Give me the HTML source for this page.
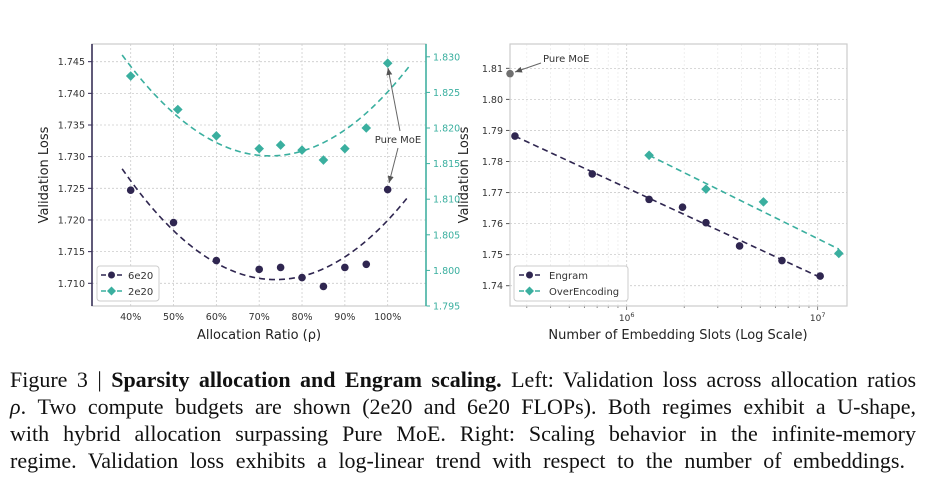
<!DOCTYPE html>
<html><head><meta charset="utf-8"><style>
body{margin:0;background:#fff;width:949px;height:493px;overflow:hidden;position:relative}
svg{position:absolute;left:0;top:0}
svg text{font-family:"DejaVu Sans","Liberation Sans",sans-serif}
.cap{position:absolute;left:10px;width:906px;font-family:"Liberation Serif",serif;font-size:22px;color:#111;white-space:nowrap;text-align:justify;text-align-last:justify;line-height:27px}
</style></head><body>
<svg id="chart" width="949" height="360"></svg>
<div class="cap" style="top:366px">Figure 3 | <b>Sparsity allocation and Engram scaling.</b> Left: Validation loss across allocation ratios</div>
<div class="cap" style="top:393px"><i>ρ</i>. Two compute budgets are shown (2e20 and 6e20 FLOPs). Both regimes exhibit a U-shape,</div>
<div class="cap" style="top:420px">with hybrid allocation surpassing Pure MoE. Right: Scaling behavior in the infinite-memory</div>
<div class="cap" style="top:447px;width:895px">regime. Validation loss exhibits a log-linear trend with respect to the number of embeddings.</div>
<script>
// Left chart data
const ratios6=[40,50,60,70,75,80,85,90,95,100];
const loss6=[1.7247,1.7196,1.7136,1.7122,1.7125,1.7109,1.7095,1.7125,1.7130,1.7248];
const ratios2=[40,51,60,70,75,80,85,90,95,100];
const loss2=[1.8273,1.8226,1.8189,1.8171,1.8176,1.8169,1.8155,1.8171,1.8200,1.8291];
const xTicksL=[40,50,60,70,80,90,100];
const yTicksL=[1.710,1.715,1.720,1.725,1.730,1.735,1.740,1.745];
const yTicksR=[1.795,1.800,1.805,1.810,1.815,1.820,1.825,1.830];
// Right chart data
const slotsEngram=[2.6e5,6.6e5,1.31e6,1.96e6,2.6e6,3.9e6,6.5e6,1.03e7];
const lossEngram=[1.7882,1.7760,1.7678,1.7653,1.7603,1.7528,1.7481,1.7431];
const slotsOver=[1.31e6,2.6e6,5.2e6,1.29e7];
const lossOver=[1.7820,1.7711,1.7670,1.7504];
const pureMoE=[2.45e5,1.8083];
const yTicksRight=[1.74,1.75,1.76,1.77,1.78,1.79,1.80,1.81];

const PUR='#2f2650',TEA='#3aaf9f';
const svg=document.getElementById('chart');
const NS='http://www.w3.org/2000/svg';
function el(t,a,p){const e=document.createElementNS(NS,t);for(const k in a)e.setAttribute(k,a[k]);(p||svg).appendChild(e);return e;}
function txt(s,a,p){const e=el('text',a,p);e.textContent=s;return e;}

const xL=v=>130.7+(v-40)*4.283;
const yL=v=>283.3-(v-1.710)/0.005*31.66;
const yR=v=>306-(v-1.795)/0.005*35.6;
for(const t of xTicksL){const g=el('line',{x1:xL(t),x2:xL(t),y1:44,y2:306,stroke:'#ccc','stroke-dasharray':'2,2','stroke-width':0.8});

const l=txt(t+'%',{x:xL(t),y:320,'font-size':9.5,'text-anchor':'middle',fill:'#333'});
}
for(const t of yTicksL){const g=el('line',{x1:92,x2:426,y1:yL(t),y2:yL(t),stroke:'#ccc','stroke-dasharray':'2,2','stroke-width':0.8});

el('line',{x1:88,x2:92,y1:yL(t),y2:yL(t),stroke:PUR});
const l=txt(t.toFixed(3),{x:85,y:yL(t)+3.5,'font-size':9.5,'text-anchor':'end',fill:'#333'});
}
for(const t of yTicksR){el('line',{x1:426,x2:430,y1:yR(t),y2:yR(t),stroke:TEA});
const l=txt(t.toFixed(3),{x:433,y:yR(t)+3.5,'font-size':9.5,fill:TEA});
}
el('rect',{x:92,y:44,width:334,height:262,fill:'none',stroke:'#ccc','stroke-width':1.2});
el('line',{x1:92,x2:92,y1:44,y2:306,stroke:PUR,'stroke-width':1.5});
el('line',{x1:426,x2:426,y1:44,y2:306,stroke:TEA,'stroke-width':1.5});
function qfit(xs,ys){let S=[0,0,0,0,0],T=[0,0,0];for(let i=0;i<xs.length;i++){const x=xs[i]/100;let p=1;for(let k=0;k<5;k++){S[k]+=p;if(k<3)T[k]+=p*ys[i];p*=x;}}
const A=[[S[0],S[1],S[2],T[0]],[S[1],S[2],S[3],T[1]],[S[2],S[3],S[4],T[2]]];
for(let i=0;i<3;i++){for(let j=i+1;j<3;j++){const f=A[j][i]/A[i][i];for(let k=i;k<4;k++)A[j][k]-=f*A[i][k];}}
const c=[0,0,0];for(let i=2;i>=0;i--){let s=A[i][3];for(let k=i+1;k<3;k++)s-=A[i][k]*c[k];c[i]=s/A[i][i];}
return x=>c[0]+c[1]*x/100+c[2]*(x/100)**2;}
function curve(f,ys,col,name){let d='';for(let x=38;x<=105;x+=0.5)d+=(d?'L':'M')+xL(x)+','+ys(f(x));
const p=el('path',{d,fill:'none',stroke:col,'stroke-width':1.6,'stroke-dasharray':'6,4'});
}
curve(qfit(ratios6,loss6),yL,PUR,'fit-curve-6e20');
curve(qfit(ratios2,loss2),yR,TEA,'fit-curve-2e20');
function dot(x,y,c,name){const e=el('circle',{cx:x,cy:y,r:3.8,fill:c});}
function dia(x,y,c,name){const e=el('path',{d:`M${x},${y-4.8}L${x+4.8},${y}L${x},${y+4.8}L${x-4.8},${y}Z`,fill:c});}
ratios6.forEach((r,i)=>dot(xL(r),yL(loss6[i]),PUR,'point-6e20'));
ratios2.forEach((r,i)=>dia(xL(r),yR(loss2[i]),TEA,'point-2e20'));
el('defs',{}).innerHTML='<marker id="ah" markerWidth="8" markerHeight="8" refX="7" refY="4" orient="auto"><path d="M0,1L7,4L0,7Z" fill="#555"/></marker>';
txt('Pure MoE',{x:398,y:143,'font-size':10,'text-anchor':'middle',fill:'#333'});
el('line',{x1:400,y1:131,x2:388,y2:68,stroke:'#666','marker-end':'url(#ah)'});
el('line',{x1:398,y1:148,x2:389,y2:183,stroke:'#666','marker-end':'url(#ah)'});
const lg=el('g',{});
el('rect',{x:97,y:266,width:62,height:35,rx:3,fill:'#fff',stroke:'#ccc'},lg);
el('line',{x1:101,x2:122,y1:275,y2:275,stroke:PUR,'stroke-width':1.6,'stroke-dasharray':'5,3'},lg);
el('circle',{cx:111.5,cy:275,r:3.5,fill:PUR},lg);
txt('6e20',{x:128,y:279,'font-size':10,fill:'#333'},lg);
el('line',{x1:101,x2:122,y1:291,y2:291,stroke:TEA,'stroke-width':1.6,'stroke-dasharray':'5,3'},lg);
el('path',{d:'M111.5,286.5L116,291L111.5,295.5L107,291Z',fill:TEA},lg);
txt('2e20',{x:128,y:295,'font-size':10,fill:'#333'},lg);
txt('Allocation Ratio (ρ)',{x:259,y:339,'font-size':13,'text-anchor':'middle',fill:'#222'});
txt('Validation Loss',{x:0,y:0,'font-size':13,'text-anchor':'middle',fill:'#222',transform:'translate(48,175) rotate(-90)'});

const lx=v=>626.7+(Math.log10(v)-6)*191;
const yRR=v=>285.7-(v-1.74)/0.01*31.05;
for(let e=5;e<=7;e++)for(let m=1;m<=9;m++){const v=m*10**e;const x=lx(v);if(x<511||x>846)continue;
el('line',{x1:x,x2:x,y1:44,y2:306,stroke:m==1?'#ccc':'#e6e6e6','stroke-dasharray':'2,2','stroke-width':m==1?0.8:0.6});
el('line',{x1:x,x2:x,y1:306,y2:m==1?310:308,stroke:'#555','stroke-width':0.7});
if(m==1){const t=el('text',{x:x,y:321,'font-size':9,'text-anchor':'middle',fill:'#333'});t.innerHTML='10<tspan dy="-4" font-size="6.5">'+e+'</tspan>';
}}
for(const t of yTicksRight){el('line',{x1:510,x2:847,y1:yRR(t),y2:yRR(t),stroke:'#ccc','stroke-dasharray':'2,2','stroke-width':0.8});
el('line',{x1:506,x2:510,y1:yRR(t),y2:yRR(t),stroke:'#555'});
const l=txt(t.toFixed(2),{x:503,y:yRR(t)+3.5,'font-size':9.5,'text-anchor':'end',fill:'#333'});
}
el('rect',{x:510,y:44,width:337,height:262,fill:'none',stroke:'#ccc','stroke-width':1.2});
function lfit(xs,ys){const n=xs.length;const L=xs.map(Math.log10);const mx=L.reduce((a,b)=>a+b)/n,my=ys.reduce((a,b)=>a+b)/n;
let sxy=0,sxx=0;for(let i=0;i<n;i++){sxy+=(L[i]-mx)*(ys[i]-my);sxx+=(L[i]-mx)**2;}const b=sxy/sxx;return v=>my+b*(Math.log10(v)-mx);}
function fline(xs,ys,col,name){const f=lfit(xs,ys);const a=xs[0],b=xs[xs.length-1];
const p=el('line',{x1:lx(a),y1:yRR(f(a)),x2:lx(b),y2:yRR(f(b)),stroke:col,'stroke-width':1.6,'stroke-dasharray':'6,4'});
}
fline(slotsEngram,lossEngram,PUR,'fit-line-engram');
fline(slotsOver,lossOver,TEA,'fit-line-overencoding');
slotsEngram.forEach((s,i)=>dot(lx(s),yRR(lossEngram[i]),PUR,'point-engram'));
slotsOver.forEach((s,i)=>dia(lx(s),yRR(lossOver[i]),TEA,'point-overencoding'));
dot(lx(pureMoE[0]),yRR(pureMoE[1]),'#707070','point-pure-moe');
txt('Pure MoE',{x:543,y:62,'font-size':10,fill:'#333'});
el('line',{x1:541,y1:63,x2:515,y2:72,stroke:'#666','marker-end':'url(#ah)'});
const lg2=el('g',{});
el('rect',{x:514,y:266,width:114,height:35,rx:3,fill:'#fff',stroke:'#ccc'},lg2);
el('line',{x1:519,x2:540,y1:275,y2:275,stroke:PUR,'stroke-width':1.6,'stroke-dasharray':'5,3'},lg2);
el('circle',{cx:529.5,cy:275,r:3.5,fill:PUR},lg2);
txt('Engram',{x:549,y:279,'font-size':10,fill:'#333'},lg2);
el('line',{x1:519,x2:540,y1:291,y2:291,stroke:TEA,'stroke-width':1.6,'stroke-dasharray':'5,3'},lg2);
el('path',{d:'M529.5,286.5L534,291L529.5,295.5L525,291Z',fill:TEA},lg2);
txt('OverEncoding',{x:549,y:295,'font-size':10,fill:'#333'},lg2);
txt('Number of Embedding Slots (Log Scale)',{x:678,y:339,'font-size':13,'text-anchor':'middle',fill:'#222'});
txt('Validation Loss',{x:0,y:0,'font-size':13,'text-anchor':'middle',fill:'#222',transform:'translate(468,175) rotate(-90)'});
</script>
</body></html>
